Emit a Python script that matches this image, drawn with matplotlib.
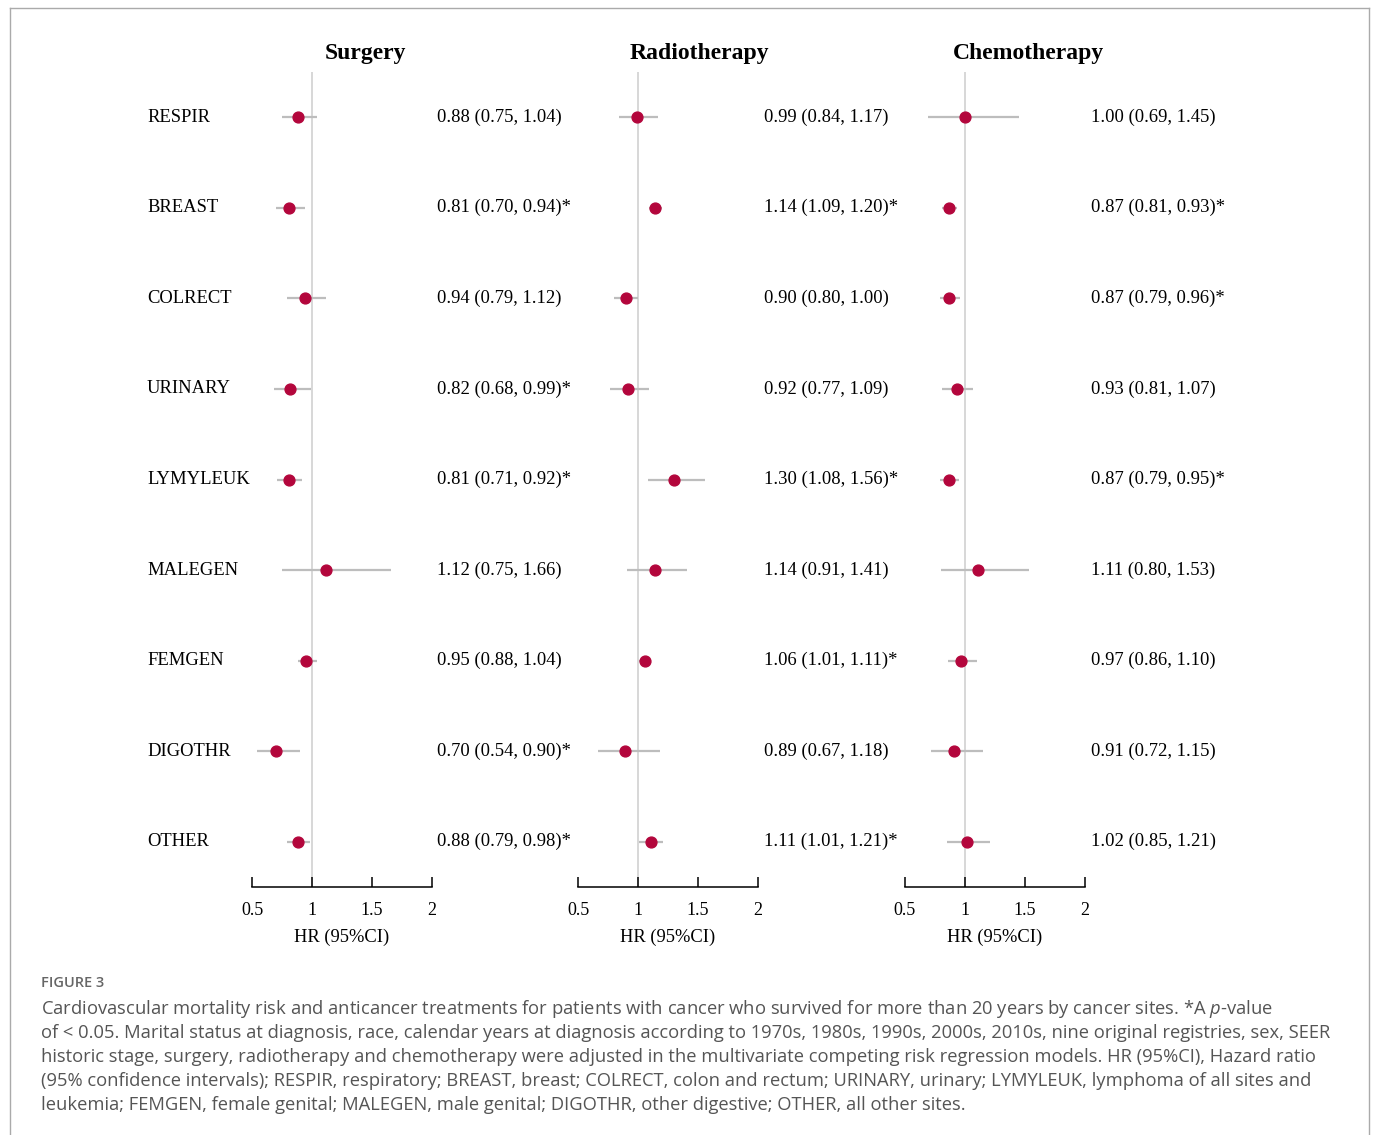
import matplotlib
matplotlib.use("Agg")
import matplotlib.pyplot as plt
from matplotlib.lines import Line2D
from matplotlib.transforms import blended_transform_factory

plt.rcParams['font.family'] = ['Liberation Serif', 'DejaVu Serif']
plt.rcParams['mathtext.fontset'] = 'custom'
plt.rcParams['mathtext.rm'] = 'Open Sans'
plt.rcParams['mathtext.it'] = 'Open Sans:italic'

# ---- data ----
sites = ["RESPIR", "BREAST", "COLRECT", "URINARY", "LYMYLEUK",
         "MALEGEN", "FEMGEN", "DIGOTHR", "OTHER"]
treatments = ["Surgery", "Radiotherapy", "Chemotherapy"]

surgery_hr = [0.88, 0.81, 0.94, 0.82, 0.81, 1.12, 0.95, 0.70, 0.88]
surgery_lo = [0.75, 0.70, 0.79, 0.68, 0.71, 0.75, 0.88, 0.54, 0.79]
surgery_hi = [1.04, 0.94, 1.12, 0.99, 0.92, 1.66, 1.04, 0.90, 0.98]
surgery_sig = [False, True, False, True, True, False, False, True, True]

radio_hr = [0.99, 1.14, 0.90, 0.92, 1.30, 1.14, 1.06, 0.89, 1.11]
radio_lo = [0.84, 1.09, 0.80, 0.77, 1.08, 0.91, 1.01, 0.67, 1.01]
radio_hi = [1.17, 1.20, 1.00, 1.09, 1.56, 1.41, 1.11, 1.18, 1.21]
radio_sig = [False, True, False, False, True, False, True, False, True]

chemo_hr = [1.00, 0.87, 0.87, 0.93, 0.87, 1.11, 0.97, 0.91, 1.02]
chemo_lo = [0.69, 0.81, 0.79, 0.81, 0.79, 0.80, 0.86, 0.72, 0.85]
chemo_hi = [1.45, 0.93, 0.96, 1.07, 0.95, 1.53, 1.10, 1.15, 1.21]
chemo_sig = [False, True, True, False, True, False, False, False, False]

x_ticks = [0.5, 1, 1.5, 2]
x_ticklabels = ["0.5", "1", "1.5", "2"]
x_label = "HR (95%CI)"

panels = [
    (surgery_hr, surgery_lo, surgery_hi, surgery_sig),
    (radio_hr, radio_lo, radio_hi, radio_sig),
    (chemo_hr, chemo_lo, chemo_hi, chemo_sig),
]

caption_head = "FIGURE 3"
caption_lines = [
    "Cardiovascular mortality risk and anticancer treatments for patients with cancer who survived for more than 20 years by cancer sites. *A $p$-value",
    "of < 0.05. Marital status at diagnosis, race, calendar years at diagnosis according to 1970s, 1980s, 1990s, 2000s, 2010s, nine original registries, sex, SEER",
    "historic stage, surgery, radiotherapy and chemotherapy were adjusted in the multivariate competing risk regression models. HR (95%CI), Hazard ratio",
    "(95% confidence intervals); RESPIR, respiratory; BREAST, breast; COLRECT, colon and rectum; URINARY, urinary; LYMYLEUK, lymphoma of all sites and",
    "leukemia; FEMGEN, female genital; MALEGEN, male genital; DIGOTHR, other digestive; OTHER, all other sites.",
]

# ---- layout (pixel geometry of a 1375x1135 canvas) ----
W, H = 1375, 1135
fig = plt.figure(figsize=(W / 100, H / 100), dpi=100)


def fx(px):
    return px / W


def fy(py):
    return 1 - py / H


axis_left_px = [252, 578, 905]
axis_width_px = 180
axis_top_px, axis_bottom_px = 72, 887
value_text_px = [437, 764, 1091]
title_center_px = [365, 699, 1028]
site_label_px = 147

dot_color = "#B3063C"
ci_color = "#BDBDBD"
ref_color = "#D4D4D4"

n = len(sites)
rows = list(range(n))

for k, (hr, lo, hi, sig) in enumerate(panels):
    ax = fig.add_axes([fx(axis_left_px[k]), fy(axis_bottom_px),
                       axis_width_px / W, (axis_bottom_px - axis_top_px) / H])
    ax.set_xlim(0.5, 2)
    ax.set_ylim(n - 0.5, -0.5)
    ax.patch.set_alpha(0)
    for s in ("left", "right", "top"):
        ax.spines[s].set_visible(False)
    ax.spines["bottom"].set_linewidth(1.1)
    ax.set_yticks([])
    ax.set_xticks(x_ticks)
    ax.set_xticklabels(x_ticklabels, fontsize=13)
    ax.tick_params(axis="x", direction="in", length=7, width=1.1, pad=11)
    ax.set_xlabel(x_label, fontsize=13.3, labelpad=7)

    ax.axvline(1, color=ref_color, lw=1.3, zorder=1)
    ax.hlines(rows, lo, hi, color=ci_color, lw=1.6, zorder=2)
    ax.plot(hr, rows, "o", color=dot_color, markersize=7.8, zorder=3,
            clip_on=False)

    row_tf = blended_transform_factory(fig.transFigure, ax.transData)
    for i in rows:
        label = f"{hr[i]:.2f} ({lo[i]:.2f}, {hi[i]:.2f})" + ("*" if sig[i] else "")
        ax.text(fx(value_text_px[k]), i, label, fontsize=13.4, va="center",
                ha="left", transform=row_tf)
        if k == 0:
            ax.text(fx(site_label_px), i, sites[i], fontsize=13.4, va="center",
                    ha="left", transform=row_tf)

    fig.text(fx(title_center_px[k]), fy(53), treatments[k], fontsize=17,
             fontweight="bold", ha="center", va="center")

# ---- caption ----
cap_font = ["Open Sans", "DejaVu Sans"]
fig.text(fx(41), fy(983), caption_head, fontsize=10.5, color="#666666",
         family=cap_font, fontweight="semibold", va="center", ha="left")
for j, line in enumerate(caption_lines):
    fig.text(fx(41), fy(1009 + 24 * j), line, fontsize=13.2, color="#555555",
             family=cap_font, va="center", ha="left")

# ---- outer frame ----
frame = dict(color="#AAAAAA", lw=1.0, transform=fig.transFigure)
fig.add_artist(Line2D([fx(10), fx(10)], [fy(8), 0], **frame))
fig.add_artist(Line2D([fx(10), fx(1369)], [fy(8), fy(8)], **frame))
fig.add_artist(Line2D([fx(1369), fx(1369)], [fy(8), 0], **frame))

fig.savefig("out.png", dpi=100)
